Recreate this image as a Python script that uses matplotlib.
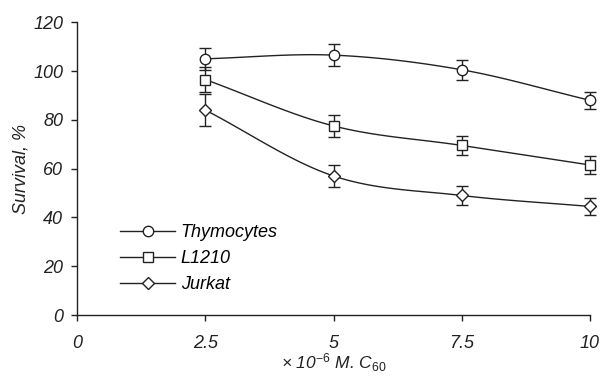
import numpy as np
import matplotlib.pyplot as plt
from matplotlib.lines import Line2D

conc = [2.5, 5, 7.5, 10]
thymocytes = [105, 106.5, 100.5, 88]
thymocytes_err = [4.5, 4.5, 4, 3.5]
l1210 = [96.5, 77.5, 69.5, 61.5]
l1210_err = [5, 4.5, 4, 3.5]
jurkat = [84, 57, 49, 44.5]
jurkat_err = [6.5, 4.5, 4, 3.5]

names = ["Thymocytes", "L1210", "Jurkat"]
markers = ["o", "s", "D"]
msizes = [7.5, 7.5, 6.5]

plt.rcParams['font.family'] = ['Liberation Sans', 'DejaVu Sans']
plt.rcParams['mathtext.fontset'] = 'custom'
plt.rcParams['mathtext.it'] = 'Liberation Sans:italic'
plt.rcParams['mathtext.rm'] = 'Liberation Sans'
plt.rcParams['mathtext.default'] = 'it'


def smooth(x, y, n=40):
    # Catmull-Rom curve through the data points (for line rendering only)
    x = np.asarray(x, float)
    y = np.asarray(y, float)
    px = np.concatenate([[2 * x[0] - x[1]], x, [2 * x[-1] - x[-2]]])
    py = np.concatenate([[2 * y[0] - y[1]], y, [2 * y[-1] - y[-2]]])
    xs, ys = [], []
    t = np.linspace(0, 1, n)
    for i in range(1, len(px) - 2):
        for p, out in ((px, xs), (py, ys)):
            p0, p1, p2, p3 = p[i - 1], p[i], p[i + 1], p[i + 2]
            out.extend(0.5 * (2 * p1 + (-p0 + p2) * t + (2 * p0 - 5 * p1 + 4 * p2 - p3) * t ** 2
                              + (-p0 + 3 * p1 - 3 * p2 + p3) * t ** 3))
    return xs, ys


fig = plt.figure(figsize=(6.02, 3.76), dpi=100)
ax = fig.add_axes([0.128, 0.162, 0.852, 0.779])

handles = []
for vals, errs, name, m, ms in zip([thymocytes, l1210, jurkat],
                                    [thymocytes_err, l1210_err, jurkat_err],
                                    names, markers, msizes):
    sx, sy = smooth(conc, vals)
    ax.plot(sx, sy, color="#222222", lw=1.0, clip_on=False, zorder=2)
    ax.errorbar(conc, vals, yerr=errs, fmt="none", ecolor="#222222", elinewidth=1.0,
                capsize=4.3, capthick=1.0, clip_on=False, zorder=2)
    ax.plot(conc, vals, ls="none", marker=m, ms=ms, mfc="white", mec="#222222",
            mew=1.0, clip_on=False, zorder=3)
    handles.append(Line2D([], [], color="#222222", lw=1.0, marker=m, ms=ms,
                          mfc="white", mec="#222222", mew=1.0, label=name))

ax.legend(handles=handles, loc="upper left", bbox_to_anchor=(0.056, 0.36), frameon=False,
          handlelength=3.05, handletextpad=0.3, labelspacing=0.5, borderpad=0.3,
          prop={"style": "italic", "size": 13})

ax.set_xlim(0, 10)
ax.set_ylim(0, 120)
ax.set_xticks([0, 2.5, 5, 7.5, 10])
ax.set_xticklabels(["0", "2.5", "5", "7.5", "10"])
ax.set_yticks([0, 20, 40, 60, 80, 100, 120])
for s in ["top", "right"]:
    ax.spines[s].set_visible(False)
for s in ["left", "bottom"]:
    ax.spines[s].set_linewidth(1.0)
    ax.spines[s].set_color("#222222")
ax.tick_params(direction="out", length=4, width=1.0, color="#222222", labelsize=13)
ax.tick_params(axis="x", pad=10)
ax.tick_params(axis="y", pad=6)
for lab in ax.get_xticklabels() + ax.get_yticklabels():
    lab.set_fontstyle("italic")
    lab.set_color("#222222")

ax.set_ylabel("Survival, %", fontsize=13, style="italic", color="#222222", labelpad=3)
ax.set_xlabel(r"× 10$^{-6}$ M. C$_{60}$", fontsize=12.5, style="italic", color="#222222", labelpad=0)

fig.savefig("out.png", dpi=100)
